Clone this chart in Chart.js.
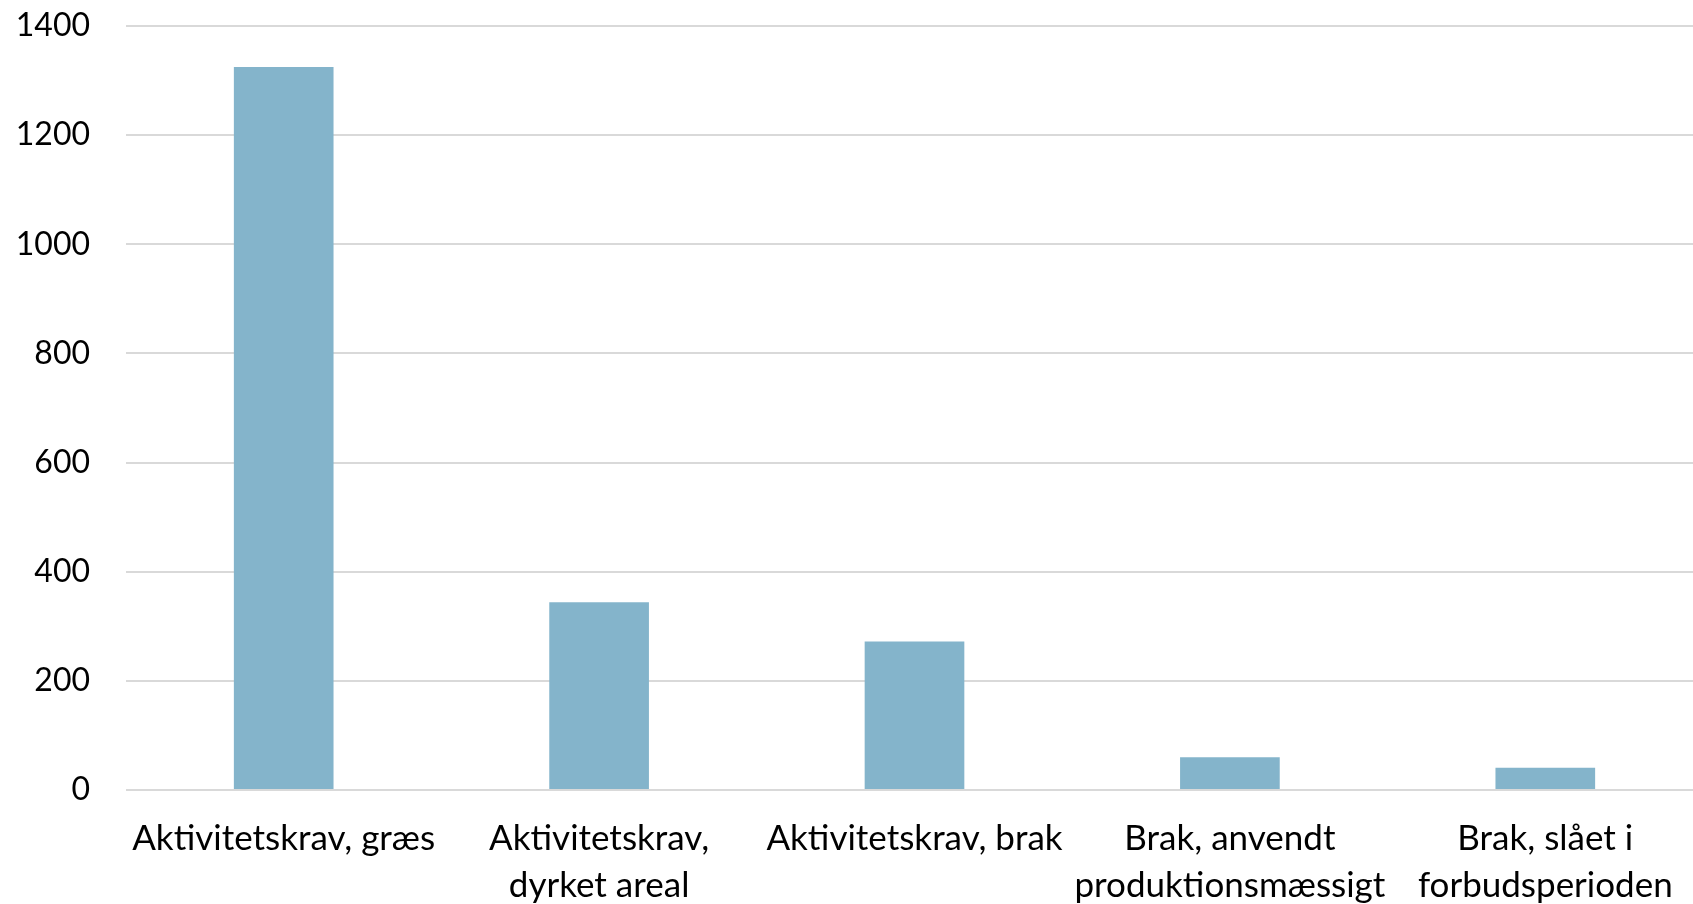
<!DOCTYPE html>
<html>
<head>
<meta charset="utf-8">
<script src="https://cdn.jsdelivr.net/npm/chart.js@4"></script>
<style>
  html, body { margin: 0; padding: 0; background: #fff; overflow: hidden; }
  /* plot area runs slightly past the right edge of the picture */
  #wrap { width: 1703px; height: 904px; }
</style>
</head>
<body>
<div id="wrap"><canvas id="barChart"></canvas></div>
<script>
// categories and values
const categories = [
    'Aktivitetskrav, græs',
    ['Aktivitetskrav,', 'dyrket areal'],
    'Aktivitetskrav, brak',
    ['Brak, anvendt', 'produktionsmæssigt'],
    ['Brak, slået i', 'forbudsperioden']
];
const values = [1325, 344, 272, 60, 41];
const yTicks = [0, 200, 400, 600, 800, 1000, 1200, 1400];

const barColor = '#84b4cb';
const gridColor = '#d9d9d9';
const fontFamily = 'Lato, "Open Sans", sans-serif';

const ctx = document.getElementById('barChart').getContext('2d');
new Chart(ctx, {
    type: 'bar',
    data: {
        labels: categories,
        datasets: [{
            data: values,
            backgroundColor: barColor,
            categoryPercentage: 0.316,
            barPercentage: 1
        }]
    },
    options: {
        responsive: true,
        maintainAspectRatio: false,
        animation: false,
        layout: { padding: 0 },
        plugins: {
            legend: { display: false },
            tooltip: { enabled: false }
        },
        scales: {
            x: {
                grid: { display: false, drawTicks: false },
                border: { display: false },
                ticks: {
                    color: '#000',
                    font: { family: fontFamily, size: 35, lineHeight: 1.32 },
                    padding: 26,
                    maxRotation: 0,
                    autoSkip: false
                },
                afterFit: axis => {
                    axis.height = 114;
                    axis.paddingLeft = 0;
                    axis.paddingRight = 0;
                }
            },
            y: {
                min: 0,
                max: 1400,
                afterBuildTicks: axis => {
                    axis.ticks = yTicks.map(v => ({ value: v }));
                },
                grid: { color: gridColor, lineWidth: 2, drawTicks: false },
                border: { display: false },
                ticks: {
                    color: '#000',
                    font: { family: fontFamily, size: 32 },
                    padding: 36,
                    callback: v => String(v)
                },
                afterFit: axis => {
                    axis.width = 126;
                    axis.paddingTop = 26;
                    axis.paddingBottom = 0;
                }
            }
        }
    }
});
</script>
</body>
</html>
